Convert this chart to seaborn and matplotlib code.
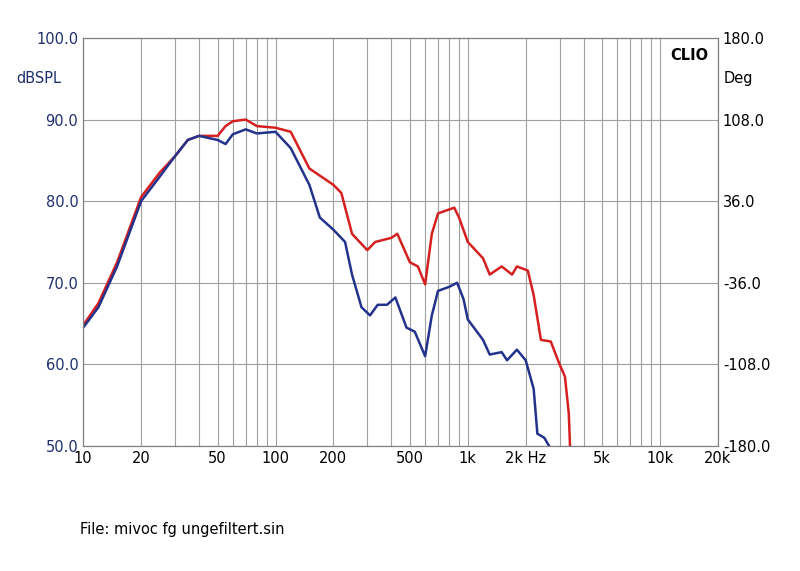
import numpy as np
import pandas as pd
import matplotlib
matplotlib.use("Agg")
import matplotlib.pyplot as plt
import seaborn as sns
from matplotlib.ticker import FixedLocator, NullFormatter

red_f = [10, 12, 15, 20, 25, 30, 35, 40, 50, 55, 60, 70, 80, 100, 120, 150, 200, 220, 250,
         300, 330, 400, 430, 500, 550, 600, 650, 700, 850, 900, 1000, 1200, 1300, 1500,
         1700, 1800, 2050, 2200, 2400, 2700, 3000, 3200, 3350, 3400]
red_db = [64.8, 67.5, 72.5, 80.5, 83.5, 85.5, 87.5, 88.0, 88.0, 89.2, 89.8, 90.0, 89.2, 89.0,
          88.5, 84.0, 82.0, 81.0, 76.0, 74.0, 75.0, 75.5, 76.0, 72.5, 72.0, 69.8, 76.0, 78.5,
          79.2, 78.0, 75.0, 73.0, 71.0, 72.0, 71.0, 72.0, 71.5, 68.5, 63.0, 62.8, 60.0, 58.5,
          54.0, 50.0]
blue_f = [10, 12, 15, 20, 25, 30, 35, 40, 50, 55, 60, 70, 80, 100, 120, 150, 170, 200, 230,
          250, 280, 310, 340, 380, 420, 480, 530, 600, 650, 700, 800, 880, 950, 1000, 1200,
          1300, 1500, 1600, 1800, 2000, 2200, 2300, 2500, 2600, 2650]
blue_db = [64.5, 67.0, 72.0, 80.0, 83.0, 85.5, 87.5, 88.0, 87.5, 87.0, 88.2, 88.8, 88.3, 88.5,
           86.5, 82.0, 78.0, 76.5, 75.0, 71.0, 67.0, 66.0, 67.3, 67.3, 68.2, 64.5, 64.0, 61.0,
           66.0, 69.0, 69.5, 70.0, 68.0, 65.5, 63.0, 61.2, 61.5, 60.5, 61.8, 60.5, 57.0, 51.5,
           51.0, 50.3, 50.0]

x_ticks = [10, 20, 50, 100, 200, 500, 1000, 2000, 5000, 10000, 20000]
x_labels = ["10", "20", "50", "100", "200", "500", "1k", "2k Hz", "5k", "10k", "20k"]
y_ticks = [50, 60, 70, 80, 90, 100]
deg_labels = ["-180.0", "-108.0", "-36.0", "36.0", "108.0", "180.0"]

navy = "#1f2f6e"
sns.set_style("white")
fig = plt.figure(figsize=(8, 5.71), dpi=100)
ax = fig.add_axes([0.104, 0.219, 0.7935, 0.7145])

df_r = pd.DataFrame({"f": red_f, "db": red_db})
df_b = pd.DataFrame({"f": blue_f, "db": blue_db})
sns.lineplot(data=df_r, x="f", y="db", color="#d62020", lw=1.8, ax=ax)
sns.lineplot(data=df_b, x="f", y="db", color="#23338c", lw=1.8, ax=ax)

ax.set_xscale("log")
ax.set_xlim(10, 20000)
ax.set_ylim(50, 100)
minor = [m * 10 ** e for e in range(1, 5) for m in range(1, 10) if 10 <= m * 10 ** e <= 20000]
ax.xaxis.set_minor_locator(FixedLocator(minor))
ax.xaxis.set_minor_formatter(NullFormatter())
ax.set_xticks(x_ticks)
ax.set_xticklabels(x_labels)
ax.grid(True, which="both", axis="x", color="#a0a0a0", lw=0.8)
ax.grid(True, which="major", axis="y", color="#a0a0a0", lw=0.8)
ax.set_yticks(y_ticks)
ax.set_yticklabels([f"{v:.1f}" for v in y_ticks])
ax.set_xlabel("")
ax.set_ylabel("")
ax.tick_params(axis="both", labelsize=10.5, colors=navy, length=0)
ax.tick_params(axis="x", colors="black")
for s in ax.spines.values():
    s.set_color("#808080")

ax2 = ax.twinx()
ax2.set_ylim(50, 100)
ax2.set_yticks(y_ticks)
ax2.set_yticklabels(deg_labels)
ax2.tick_params(axis="y", labelsize=10.5, colors="black", length=0)
for s in ax2.spines.values():
    s.set_color("#808080")

fig.text(0.02, 0.855, "dBSPL", fontsize=10.5, color=navy)
fig.text(0.905, 0.855, "Deg", fontsize=10.5, color="black")
ax.text(0.985, 0.975, "CLIO", transform=ax.transAxes, ha="right", va="top",
        fontsize=10.5, fontweight="bold", color="black")
fig.text(0.1, 0.065, "File: mivoc fg ungefiltert.sin", fontsize=10.5, color="black")

fig.savefig("out.png", dpi=100, facecolor="white")
